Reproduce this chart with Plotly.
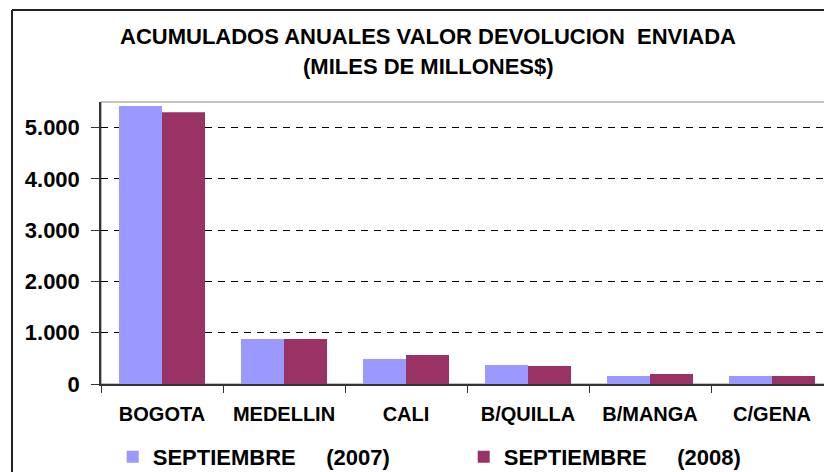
import plotly.graph_objects as go

categories = ["BOGOTA", "MEDELLIN", "CALI", "B/QUILLA", "B/MANGA", "C/GENA"]
sep_2007 = [5420, 880, 490, 370, 155, 155]
sep_2008 = [5300, 880, 565, 350, 195, 155]
series_names = ["SEPTIEMBRE\u00a0\u00a0\u00a0\u00a0\u00a0(2007)",
                "SEPTIEMBRE\u00a0\u00a0\u00a0\u00a0\u00a0(2008)"]
y_ticks = [0, 1000, 2000, 3000, 4000, 5000]
title_line1 = "ACUMULADOS ANUALES VALOR DEVOLUCION\u00a0\u00a0ENVIADA"
title_line2 = "(MILES DE MILLONES$)"

FONT = "Liberation Sans, Arial, sans-serif"
TOP_FRAME = 1 + (94 - 2) / 282
LEFT_FRAME = (12 - 101) / 732

fig = go.Figure()
fig.add_trace(go.Bar(x=categories, y=sep_2007, name=series_names[0],
                     marker=dict(color="#9999FF", line=dict(width=0))))
fig.add_trace(go.Bar(x=categories, y=sep_2008, name=series_names[1],
                     marker=dict(color="#993366", line=dict(width=0))))

fig.update_layout(
    width=832, height=472,
    margin=dict(l=93, r=7, t=94, b=96, autoexpand=False),
    paper_bgcolor="white", plot_bgcolor="white",
    barmode="group", bargap=0.295, bargroupgap=0,
    separators=",.",
    font=dict(family=FONT, color="black"),
    showlegend=True,
    legend=dict(orientation="h", x=0.016, xanchor="left", y=-0.259, yanchor="middle",
                font=dict(size=22, family=FONT, weight="bold"),
                entrywidth=306, entrywidthmode="pixels",
                bgcolor="rgba(0,0,0,0)", borderwidth=0),
    xaxis=dict(showline=True, linecolor="#333333", linewidth=1.5,
               ticks="outside", ticklen=7, tickcolor="#333333", tickson="boundaries",
               tickfont=dict(size=20, family=FONT, weight="bold"), ticklabelstandoff=11,
               range=[-0.5, 5.5], fixedrange=True, automargin=False),
    yaxis=dict(range=[0, 5500], tickvals=y_ticks, tickformat=",d",
               showline=True, linecolor="#333333", linewidth=1.5,
               ticks="outside", ticklen=8, tickcolor="#333333",
               tickfont=dict(size=22, family=FONT, weight="bold"), ticklabelstandoff=7,
               showgrid=True, gridcolor="black", gridwidth=1, griddash="7px,6px",
               zeroline=False, automargin=False),
    shapes=[
        dict(type="rect", xref="paper", yref="paper", x0=0, x1=1, y0=0, y1=1,
             line=dict(color="#8a8a8a", width=1.2), layer="below"),
        dict(type="line", xref="paper", yref="paper",
             x0=LEFT_FRAME, x1=LEFT_FRAME, y0=-0.4, y1=TOP_FRAME,
             line=dict(color="#222222", width=2)),
        dict(type="line", xref="paper", yref="paper",
             x0=LEFT_FRAME, x1=1.05, y0=TOP_FRAME, y1=TOP_FRAME,
             line=dict(color="#222222", width=2)),
    ],
    annotations=[
        dict(text=title_line1, xref="paper", yref="paper", x=0.447, y=(384 - 36) / 282,
             xanchor="center", yanchor="middle", showarrow=False,
             font=dict(size=22, family=FONT, weight="bold")),
        dict(text=title_line2, xref="paper", yref="paper", x=0.447, y=(384 - 66) / 282,
             xanchor="center", yanchor="middle", showarrow=False,
             font=dict(size=22, family=FONT, weight="bold")),
    ],
)

fig.write_html("out.html")
